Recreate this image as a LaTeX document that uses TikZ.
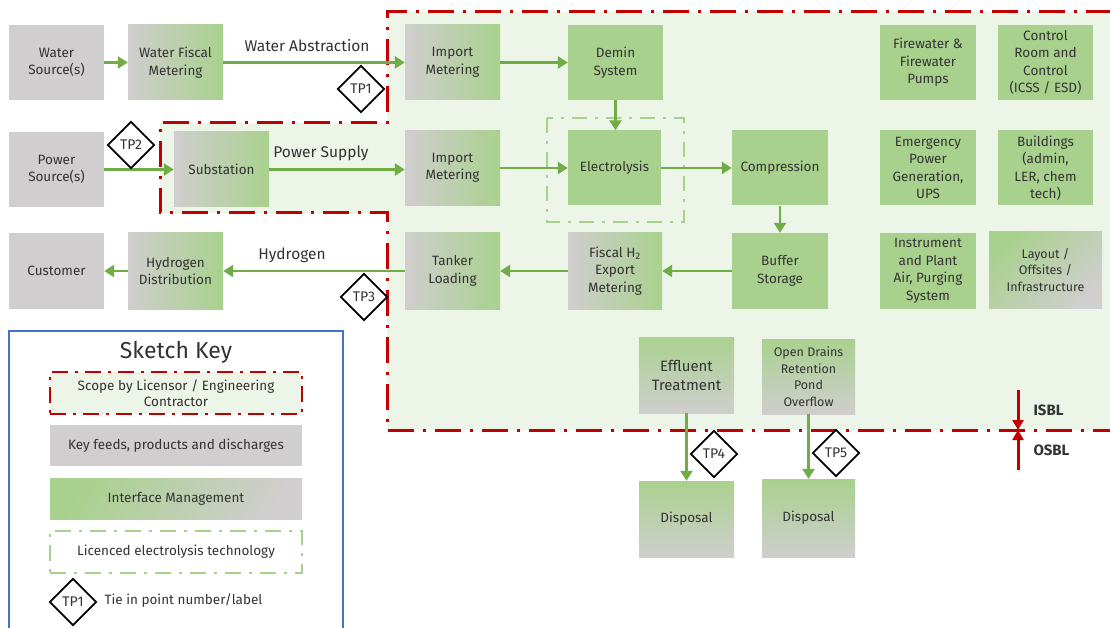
\documentclass[tikz,border=0pt]{standalone}
\usepackage{fontspec}
\setmainfont{Fira Sans}
\usetikzlibrary{shapes.geometric,arrows.meta}
\definecolor{kgray}{HTML}{D0CECE}
\definecolor{kgreen}{HTML}{A9D18E}
\definecolor{agreen}{HTML}{70AD47}
\definecolor{kred}{HTML}{C00000}
\definecolor{kfill}{HTML}{EDF4E8}
\definecolor{kblue}{HTML}{4472C4}
\definecolor{ktext}{HTML}{333333}
\definecolor{lgreen}{HTML}{A9D18E}
\newcommand\boxfont{\fontsize{13.5}{17.5}\selectfont}
\newcommand\smallboxfont{\fontsize{12.5}{16.5}\selectfont}
\newcommand\bigboxfont{\fontsize{15}{19}\selectfont}
\newcommand\labfont{\fontsize{15.5}{18}\selectfont}
\newcommand\keyfont{\fontsize{13.5}{16.5}\selectfont}
\begin{document}
\begin{tikzpicture}[x=1pt,y=-1pt,
  box/.style={rectangle, minimum width=95pt, minimum height=75pt, inner sep=1pt, align=center, text=ktext, font=\boxfont},
  gbox/.style={box, fill=kgreen},
  ybox/.style={box, fill=kgray},
  hgrad/.style={box, left color=kgray, right color=kgreen},
  vgrad/.style={box, top color=kgreen, bottom color=kgray},
  dgrad/.style={box, top color=kgreen, bottom color=kgray, shading angle=45},
  flow/.style={draw=agreen, line width=2.8pt, -{Triangle[length=10pt,width=12pt]}},
  redb/.style={draw=kred, line width=3pt, dash pattern=on 26pt off 9pt on 3pt off 9pt},
  greenb/.style={draw=lgreen, line width=2.5pt, dash pattern=on 15pt off 8pt on 3pt off 8pt},
  tpnode/.style={diamond, draw=black, fill=white, line width=1.8pt, minimum width=47pt, minimum height=47pt, inner sep=0pt, text=ktext, font=\fontsize{14}{16}\selectfont},
  flowlab/.style={text=ktext, font=\labfont, inner sep=1pt},
  keybox/.style={rectangle, minimum width=252pt, minimum height=41pt, align=center, text=ktext, font=\keyfont, inner sep=1pt},
  limit/.style={draw=kred, line width=3pt, -{Triangle[length=10pt,width=11pt]}}
]
\useasboundingbox (0,0) rectangle (1110,628);
\fill[white] (0,0) rectangle (1110,628);

% ISBL region
\fill[kfill] (1112,12) -- (387,12) -- (387,123) -- (160,123) -- (160,213) -- (387,213) -- (387,430) -- (1112,430) -- cycle;
\draw[redb] (1112,12) -- (387,12) -- (387,123) -- (160,123) -- (160,213) -- (387,213) -- (387,430) -- (1112,430);

% licensed electrolysis boundary
\draw[greenb] (547,118) rectangle (684,222);

% row 1
\node[ybox] (ws) at (56.5,62.5) {Water\\Source(s)};
\node[hgrad] (wfm) at (175.5,62.5) {Water Fiscal\\Metering};
\node[hgrad] (im1) at (452.5,62.5) {Import\\Metering};
\node[gbox] (demin) at (615.5,62.5) {Demin\\System};
\node[gbox, minimum width=96pt] (fw) at (928,62.5) {Firewater \&\\Firewater\\Pumps};
\node[gbox] (cr) at (1045.5,62.5) {Control\\Room and\\Control\\(ICSS / ESD)};

% row 2
\node[ybox] (ps) at (56.5,169.5) {Power\\Source(s)};
\node[hgrad] (sub) at (221.5,169.5) {Substation};
\node[hgrad] (im2) at (452.5,168) {Import\\Metering};
\node[gbox, minimum width=93pt] (elec) at (614.5,168) {Electrolysis};
\node[gbox, minimum width=96pt] (comp) at (780,168) {Compression};
\node[gbox, minimum width=96pt] (epg) at (928,168) {Emergency\\Power\\Generation,\\UPS};
\node[gbox] (bld) at (1045.5,168) {Buildings\\(admin,\\LER, chem\\tech)};

% row 3
\node[ybox, minimum height=76pt] (cust) at (56.5,271) {Customer};
\node[hgrad, minimum height=76pt] (hd) at (175.5,271) {Hydrogen\\Distribution};
\node[hgrad, minimum height=76pt] (tank) at (452.5,271) {Tanker\\Loading};
\node[hgrad, minimum width=94pt, minimum height=76pt] (fisc) at (615,271) {Fiscal H\textsubscript{2}\\Export\\Metering};
\node[gbox, minimum width=96pt, minimum height=76pt] (buf) at (780,271) {Buffer\\Storage};
\node[gbox, minimum width=96pt, minimum height=76pt] (ipa) at (928,271) {Instrument\\and Plant\\Air, Purging\\System};
\node[dgrad, minimum width=113pt, minimum height=76pt, font=\smallboxfont] (lay) at (1045.5,270) {Layout /\\Offsites /\\Infrastructure};

% row 4 / 5
\node[vgrad, minimum height=76pt, font=\bigboxfont] (eff) at (686.5,375) {Effluent\\Treatment};
\node[vgrad, minimum width=93pt, font=\smallboxfont] (od) at (808.5,376.5) {Open Drains\\Retention\\Pond\\Overflow};
\node[vgrad, minimum height=76pt] (d1) at (686.5,519) {Disposal};
\node[vgrad, minimum width=93pt, minimum height=78pt] (d2) at (808.5,518) {Disposal};

% flows
\draw[flow] (ws) -- (wfm);
\draw[flow] (wfm) -- (im1);
\draw[flow] (im1) -- (demin);
\draw[flow] (demin.south) -- (demin.south |- elec.north);
\draw[flow] (ps) -- (sub);
\draw[flow] (sub.east) -- (sub.east -| im2.west);
\draw[flow] (im2) -- (elec);
\draw[flow] (elec) -- (comp);
\draw[flow] (comp) -- (buf);
\draw[flow] (buf) -- (fisc);
\draw[flow] (fisc) -- (tank);
\draw[flow] (tank) -- (hd);
\draw[flow] (hd) -- (cust);
\draw[flow] (eff) -- (d1);
\draw[flow] (od) -- (d2);

% flow labels
\node[flowlab] (lwa) at (307,46) {Water Abstraction};
\node[flowlab] (lps) at (321,153) {Power Supply};
\node[flowlab] (lh2) at (292,255) {Hydrogen};

% tie-in points
\node[tpnode] (tp1) at (361,89) {TP1};
\node[tpnode] (tp2) at (131,145) {TP2};
\node[tpnode] (tp3) at (364,297) {TP3};
\node[tpnode] (tp4) at (714,454) {TP4};
\node[tpnode] (tp5) at (836,453) {TP5};

% ISBL / OSBL
\coordinate (isa) at (1018,390);
\coordinate (isb) at (1018,430);
\coordinate (osa) at (1018,470);
\draw[limit] (isa) -- (isb);
\draw[limit] (osa) -- (isb);
\node[anchor=west, text=ktext, font=\fontsize{15}{18}\selectfont\bfseries] (isbl) at (1030,410) {ISBL};
\node[anchor=west, text=ktext, font=\fontsize{15}{18}\selectfont\bfseries] (osbl) at (1030,450) {OSBL};

% sketch key
\draw[kblue, line width=1.3pt] (9,640) -- (9,331) -- (343,331) -- (343,640);
\node[text=ktext, font=\fontsize{23}{26}\selectfont] (kt) at (176,352) {Sketch Key};
\node[keybox, fill=kfill, draw=kred, line width=2.5pt, dash pattern=on 16pt off 7pt on 3pt off 7pt, minimum height=42pt] (k1) at (176,393) {Scope by Licensor / Engineering\\Contractor};
\node[keybox, fill=kgray] (k2) at (176,445.5) {Key feeds, products and discharges};
\node[keybox, top color=kgreen, bottom color=kgray, shading angle=60] (k3) at (176,498.5) {Interface Management};
\node[keybox, draw=lgreen, line width=2.5pt, dash pattern=on 16pt off 8pt on 3pt off 8pt, minimum height=42pt] (k4) at (176,552) {Licenced electrolysis technology};
\node[tpnode] (ktp) at (73,602) {TP1};
\node[anchor=west, text=ktext, font=\keyfont] (ktx) at (101,600) {Tie in point number/label};
\end{tikzpicture}
\end{document}
